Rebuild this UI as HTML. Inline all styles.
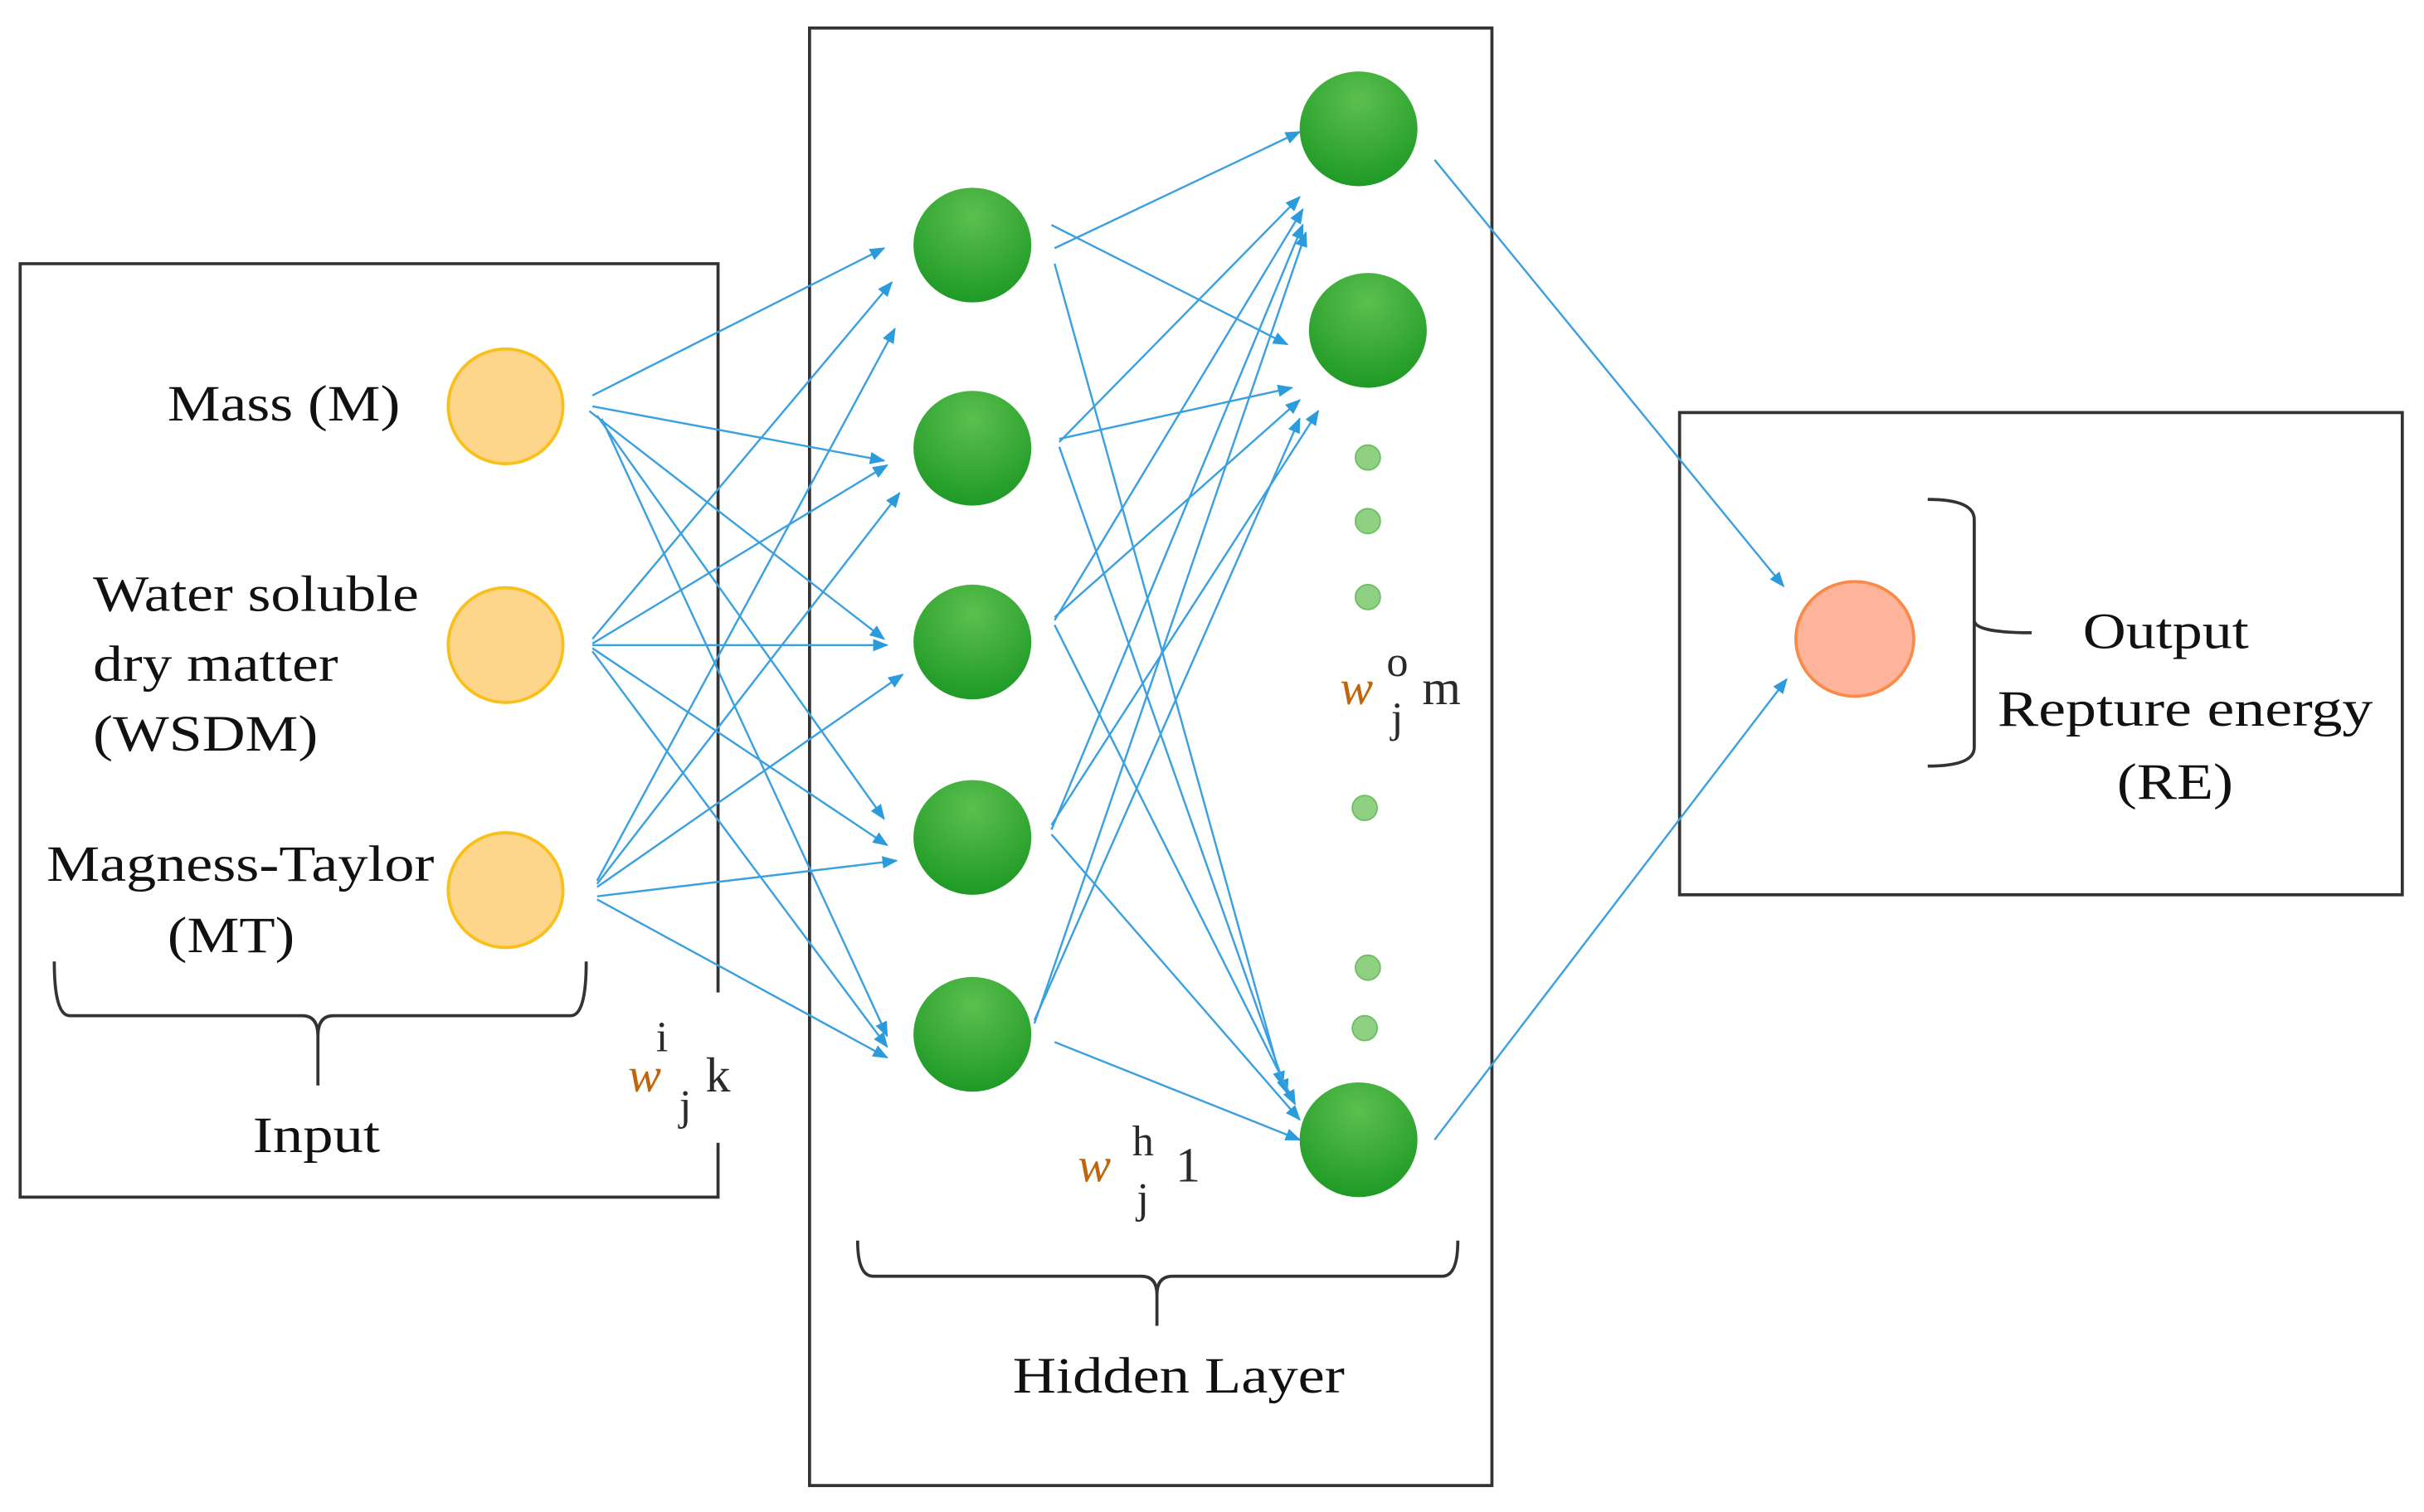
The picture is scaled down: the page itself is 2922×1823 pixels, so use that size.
<!DOCTYPE html>
<html><head><meta charset="utf-8"><style>
html,body{margin:0;padding:0;background:#fff;}
svg{display:block;}
text{font-family:"Liberation Serif",serif;fill:#111;}
.w{fill:#c0650a;font-style:italic;}
.s{fill:#2a2a2a;}
</style></head><body>
<svg width="2922" height="1823" viewBox="0 0 1563 975" xmlns="http://www.w3.org/2000/svg">
<defs>
<marker id="a" markerWidth="10" markerHeight="8" refX="9" refY="4" orient="auto" markerUnits="userSpaceOnUse">
<path d="M0,0 L10,4 L0,8 Z" fill="#2b9bdc"/></marker>
<radialGradient id="g" cx="50%" cy="25%" r="75%"><stop offset="0" stop-color="#5cbf4e"/><stop offset="1" stop-color="#1f9a26"/></radialGradient>
</defs>
<g fill="none" stroke="#333" stroke-width="2">
<polyline points="463,640 463,170 13,170 13,772 463,772 463,737"/>
<rect x="522" y="18" width="440" height="940"/>
<rect x="1083" y="266" width="466" height="311"/>
</g>
<g stroke="#3aa0e0" stroke-width="1.3" marker-end="url(#a)">
<line x1="382" y1="255" x2="570" y2="160"/>
<line x1="382" y1="262" x2="570" y2="297"/>
<line x1="380" y1="265" x2="570" y2="412"/>
<line x1="385" y1="268" x2="570" y2="528"/>
<line x1="388" y1="270" x2="572" y2="668"/>
<line x1="382" y1="412" x2="575" y2="182"/>
<line x1="382" y1="415" x2="572" y2="300"/>
<line x1="382" y1="416" x2="572" y2="416"/>
<line x1="382" y1="418" x2="572" y2="545"/>
<line x1="382" y1="420" x2="572" y2="675"/>
<line x1="385" y1="568" x2="577" y2="212"/>
<line x1="385" y1="570" x2="580" y2="318"/>
<line x1="385" y1="572" x2="582" y2="435"/>
<line x1="385" y1="578" x2="578" y2="555"/>
<line x1="385" y1="580" x2="572" y2="682"/>
<line x1="680" y1="160" x2="838" y2="85"/>
<line x1="678" y1="145" x2="830" y2="222"/>
<line x1="680" y1="170" x2="827" y2="700"/>
<line x1="683" y1="285" x2="838" y2="127"/>
<line x1="683" y1="283" x2="833" y2="250"/>
<line x1="683" y1="288" x2="830" y2="705"/>
<line x1="680" y1="400" x2="840" y2="135"/>
<line x1="680" y1="398" x2="838" y2="258"/>
<line x1="680" y1="403" x2="835" y2="712"/>
<line x1="678" y1="535" x2="840" y2="145"/>
<line x1="678" y1="532" x2="850" y2="265"/>
<line x1="678" y1="538" x2="838" y2="722"/>
<line x1="667" y1="660" x2="842" y2="150"/>
<line x1="667" y1="658" x2="838" y2="270"/>
<line x1="680" y1="672" x2="838" y2="735"/>
<line x1="925" y1="103" x2="1150" y2="378"/>
<line x1="925" y1="735" x2="1152" y2="438"/>
</g>
<g fill="#fdd58b" stroke="#f9c01a" stroke-width="2">
<ellipse cx="326" cy="262" rx="37" ry="37"/>
<ellipse cx="326" cy="416" rx="37" ry="37"/>
<ellipse cx="326" cy="574" rx="37" ry="37"/>
</g>
<g fill="url(#g)">
<ellipse cx="627" cy="158" rx="38" ry="37"/>
<ellipse cx="627" cy="289" rx="38" ry="37"/>
<ellipse cx="627" cy="414" rx="38" ry="37"/>
<ellipse cx="627" cy="540" rx="38" ry="37"/>
<ellipse cx="627" cy="667" rx="38" ry="37"/>
<ellipse cx="876" cy="83" rx="38" ry="37"/>
<ellipse cx="882" cy="213" rx="38" ry="37"/>
<ellipse cx="876" cy="735" rx="38" ry="37"/>
</g>
<g fill="#8fd083" stroke="#6cbf62" stroke-width="1">
<circle cx="882" cy="295" r="8"/><circle cx="882" cy="336" r="8"/><circle cx="882" cy="385" r="8"/>
<circle cx="880" cy="521" r="8"/><circle cx="882" cy="624" r="8"/><circle cx="880" cy="663" r="8"/>
</g>
<ellipse cx="1196" cy="412" rx="38" ry="37" fill="#fdb49a" stroke="#f98a4a" stroke-width="2"/>
<g fill="none" stroke="#333" stroke-width="2">
<path d="M35,620 Q35,655 45,655 L195,655 Q205,655 205,668 L205,700 M205,668 Q205,655 215,655 L368,655 Q378,655 378,620"/>
<path d="M553,800 Q553,823 563,823 L736,823 Q746,823 746,835 L746,855 M746,835 Q746,823 756,823 L930,823 Q940,823 940,800"/>
<path d="M1243,322 Q1273,322 1273,335 L1273,400 Q1273,408 1310,408 M1273,400 Q1273,408 1273,416 L1273,482 Q1273,494 1243,494"/>
</g>
<g font-size="33" lengthAdjust="spacingAndGlyphs">
<text x="108" y="271" textLength="150" lengthAdjust="spacingAndGlyphs">Mass (M)</text>
<text x="60" y="394" textLength="210" lengthAdjust="spacingAndGlyphs">Water soluble</text>
<text x="60" y="439" textLength="158" lengthAdjust="spacingAndGlyphs">dry matter</text>
<text x="60" y="484" textLength="145" lengthAdjust="spacingAndGlyphs">(WSDM)</text>
<text x="30" y="568" textLength="250" lengthAdjust="spacingAndGlyphs">Magness-Taylor</text>
<text x="108" y="614" textLength="82" lengthAdjust="spacingAndGlyphs">(MT)</text>
<text x="163" y="743" textLength="82" lengthAdjust="spacingAndGlyphs">Input</text>
<text x="653" y="898" textLength="214" lengthAdjust="spacingAndGlyphs">Hidden Layer</text>
<text x="1343" y="418" textLength="107" lengthAdjust="spacingAndGlyphs">Output</text>
<text x="1288" y="468" textLength="242" lengthAdjust="spacingAndGlyphs">Repture energy</text>
<text x="1365" y="515" textLength="75" lengthAdjust="spacingAndGlyphs">(RE)</text>
</g>
<g font-size="32">
<text class="w" x="405" y="704">w</text><text class="s" x="423" y="678" font-size="28">i</text><text class="s" x="438" y="722" font-size="28">j</text><text class="s" x="455" y="704">k</text>
<text class="w" x="695" y="762">w</text><text class="s" x="730" y="745" font-size="28">h</text><text class="s" x="733" y="782" font-size="28">j</text><text class="s" x="758" y="762">1</text>
<text class="w" x="864" y="454">w</text><text class="s" x="894" y="436" font-size="28">o</text><text class="s" x="897" y="472" font-size="28">j</text><text class="s" x="917" y="454">m</text>
</g>
</svg>
</body></html>
